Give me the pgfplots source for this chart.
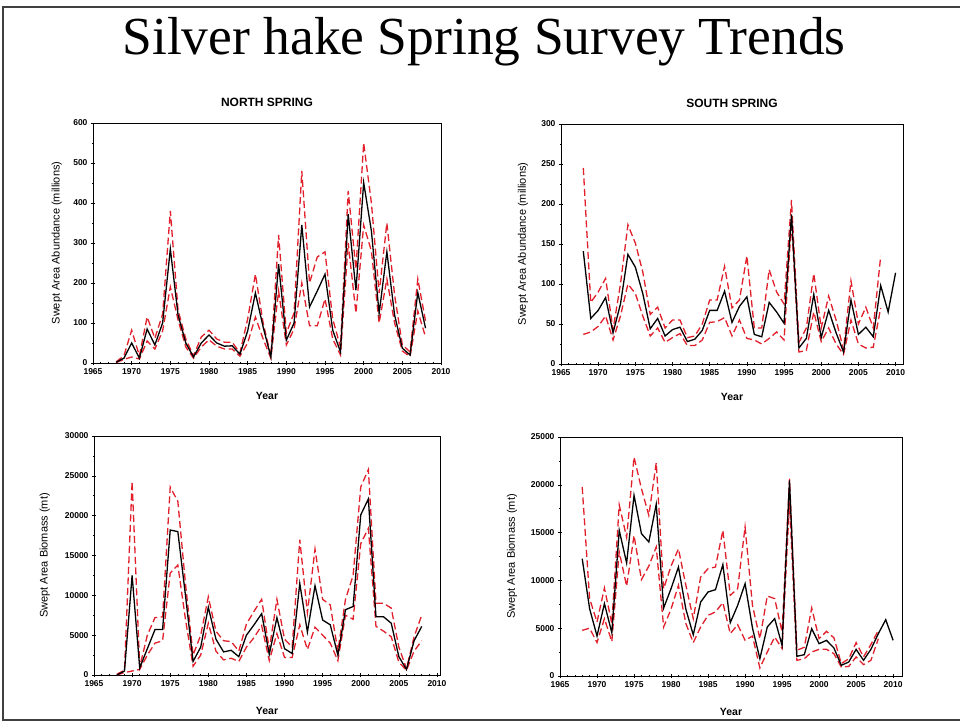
\documentclass[border=0pt]{standalone}
\usepackage{pgfplots}
\pgfplotsset{compat=1.18}
\usepackage{pgfplotstable}
\usepackage{fontspec}
\setmainfont{Liberation Serif}
\setsansfont{Liberation Sans}

\definecolor{cired}{RGB}{226,32,44}

% year, index estimate, upper and lower confidence bounds
\pgfplotstableread{
year est up low
1968 2 3 1
1969 12 18 9
1970 50 82 15
1971 12 18 10
1972 85 115 55
1973 45 62 35
1974 100 122 80
1975 285 380 190
1976 120 132 108
1977 50 60 40
1978 15 18 12
1979 50 65 40
1980 70 82 58
1981 50 60 42
1982 42 52 35
1983 43 52 35
1984 22 25 17
1985 80 110 50
1986 175 222 115
1987 90 100 60
1988 15 18 12
1989 247 320 180
1990 57 75 45
1991 100 125 85
1992 345 480 200
1993 140 200 93
1994 180 265 93
1995 222 278 160
1996 82 110 60
1997 28 40 20
1998 372 430 300
1999 182 235 125
2000 451 550 345
2001 330 400 280
2002 124 175 100
2003 278 350 210
2004 120 170 100
2005 37 45 30
2006 20 28 16
2007 176 210 130
2008 87 105 65
}\northabund

\pgfplotstableread{
year est up low
1968 141 245 37
1969 57 77 40
1970 67 90 47
1971 83 107 60
1972 39 43 30
1973 75 100 60
1974 137 174 100
1975 121 151 88
1976 88 115 60
1977 44 62 35
1978 57 71 45
1979 35 45 27
1980 43 55 33
1981 46 55 38
1982 28 33 23
1983 31 35 23
1984 42 50 30
1985 67 80 52
1986 67 80 53
1987 91 122 58
1988 52 70 35
1989 72 80 55
1990 84 135 32
1991 37 45 30
1992 34 45 25
1993 77 118 32
1994 65 90 40
1995 51 75 30
1996 187 205 178
1997 20 27 15
1998 32 45 17
1999 87 113 65
2000 33 45 28
2001 67 85 45
2002 39 55 25
2003 15 18 12
2004 80 104 55
2005 37 50 25
2006 46 71 20
2007 34 45 21
2008 98 135 70
2009 65 nan nan
2010 114 nan nan
}\southabund

\pgfplotstableread{
year est up low
1968 0 100 0
1969 500 600 300
1970 12500 24300 500
1971 900 1000 700
1972 3300 5000 2500
1973 5700 7200 4000
1974 5700 7300 4300
1975 18200 23600 12800
1976 18000 21800 13800
1977 10000 11500 7000
1978 1700 2500 1100
1979 3500 5000 2500
1980 8500 9800 6500
1981 4500 5500 3000
1982 2900 4300 1900
1983 3100 4200 2100
1984 2300 3000 1700
1985 5000 6400 3500
1986 6300 8000 4700
1987 7700 9500 6200
1988 2600 3200 1800
1989 7200 9500 5200
1990 3300 4500 2200
1991 2700 3500 2200
1992 11500 17000 6300
1993 5400 7800 3200
1994 11200 15800 6000
1995 6900 9500 5000
1996 6300 8800 4000
1997 2500 3000 1800
1998 8200 9500 7500
1999 8600 12500 7000
2000 20100 23600 16500
2001 22100 25800 18400
2002 7300 9000 6100
2003 7300 9000 5500
2004 6500 8400 4800
2005 2300 3500 1600
2006 700 800 600
2007 4300 4800 3000
2008 6100 7500 4300
}\northbiom

\pgfplotstableread{
year est up low
1968 12270 19770 4780
1969 7040 8100 5000
1970 4180 5650 3500
1971 7570 9200 6000
1972 4530 5500 3600
1973 15240 17900 13000
1974 11820 14500 9400
1975 18900 22900 14700
1976 14890 19600 10080
1977 14020 16800 11500
1978 17960 22300 13500
1979 7110 9140 5130
1980 9140 11500 7000
1981 11400 13300 9490
1982 7000 9500 5500
1983 4300 6000 3490
1984 7740 10350 5130
1985 8790 11230 6350
1986 9030 11400 6700
1987 11650 15240 7670
1988 5580 8440 4430
1989 7390 9140 5370
1990 9660 15590 3730
1991 5020 7390 4180
1992 1810 3900 840
1993 5130 8370 2510
1994 6000 8090 4080
1995 3210 4600 2860
1996 20470 20640 18200
1997 2060 2700 1640
1998 2230 3000 1810
1999 4950 7110 2510
2000 3380 3900 2790
2001 3730 4670 2790
2002 2930 4000 2340
2003 1120 1300 940
2004 1460 1800 1000
2005 2790 3490 1990
2006 1640 2000 1190
2007 2790 3300 1640
2008 4430 4780 3900
2009 5890 nan nan
2010 3730 nan nan
}\southbiom

\pgfplotsset{
  panel/.style={
    scale only axis,
    axis line style={line width=0.8pt},
    xmin=1965, ymin=0,
    xtick={1965,1970,...,2010},
    minor x tick num=4,
    minor y tick num=1,
    tick align=center,
    xtick pos=bottom, ytick pos=left,
    major tick length=4pt, minor tick length=2.5pt,
    tick style={line width=0.6pt, black},
    ticklabel style={font=\fontsize{8.5}{10}\sffamily\bfseries},
    scaled y ticks=false,
    /pgf/number format/1000 sep={},
    /pgf/number format/assume math mode=true,
    xlabel={Year},
    xlabel style={font=\fontsize{10.5}{12}\sffamily\bfseries,
      at={(axis description cs:0.5,0)}, anchor=base, yshift=-37pt},
    ylabel style={font=\fontsize{11}{13}\sffamily, anchor=center},
    title style={font=\fontsize{12}{14}\sffamily\bfseries,
      at={(axis description cs:0.5,1)}, anchor=base, yshift=10pt},
    unbounded coords=jump,
  },
  est/.style={black, line width=1.3pt},
  ci/.style={cired, line width=1.3pt, dash pattern=on 7pt off 3.5pt},
}

\begin{document}
\begin{tikzpicture}[x=1pt,y=1pt]
\useasboundingbox (0,0) rectangle (960,723);
\fill[white] (0,0) rectangle (960,723);
\draw[black!75, line width=1.8pt] (960,716) -- (3,716) -- (3,3) -- (960,3);

\node[font=\fontsize{53.5}{60}\selectfont, anchor=base] at (484,668) {Silver hake Spring Survey Trends};

% North, abundance
\begin{axis}[panel, at={(93pt,360pt)}, anchor=south west,
  width=348pt, height=240pt, xmax=2010, ymax=600, ytick={0,100,...,600},
  title={NORTH SPRING},
  ylabel={Swept Area Abundance (millions)},
  ylabel style={at={(axis description cs:-0.104,0.5)}}]
  \addplot[ci] table[x=year, y=up] {\northabund};
  \addplot[ci] table[x=year, y=low] {\northabund};
  \addplot[est] table[x=year, y=est] {\northabund};
\end{axis}

% South, abundance
\begin{axis}[panel, at={(561pt,359pt)}, anchor=south west,
  width=342pt, height=240pt, xmax=2011, ymax=300, ytick={0,50,...,300},
  title={SOUTH SPRING},
  ylabel={Swept Area Abundance (millions)},
  ylabel style={at={(axis description cs:-0.111,0.5)}}]
  \addplot[ci] table[x=year, y=up] {\southabund};
  \addplot[ci] table[x=year, y=low] {\southabund};
  \addplot[est] table[x=year, y=est] {\southabund};
\end{axis}

% North, biomass
\begin{axis}[panel, at={(94pt,48pt)}, anchor=south west,
  width=346pt, height=239pt, xmax=2010.4, ymax=30000, ytick={0,5000,...,30000},
  xlabel style={yshift=-2pt},
  ylabel={Swept Area Biomass (mt)},
  ylabel style={at={(axis description cs:-0.142,0.5)}}]
  \addplot[ci] table[x=year, y=up] {\northbiom};
  \addplot[ci] table[x=year, y=low] {\northbiom};
  \addplot[est] table[x=year, y=est] {\northbiom};
\end{axis}

% South, biomass
\begin{axis}[panel, at={(560pt,47pt)}, anchor=south west,
  width=342pt, height=239pt, xmax=2011.2, ymax=25000, ytick={0,5000,...,25000},
  xlabel style={yshift=-2pt},
  ylabel={Swept Area Biomass (mt)},
  ylabel style={at={(axis description cs:-0.14,0.5)}}]
  \addplot[ci] table[x=year, y=up] {\southbiom};
  \addplot[ci] table[x=year, y=low] {\southbiom};
  \addplot[est] table[x=year, y=est] {\southbiom};
\end{axis}
\end{tikzpicture}
\end{document}
